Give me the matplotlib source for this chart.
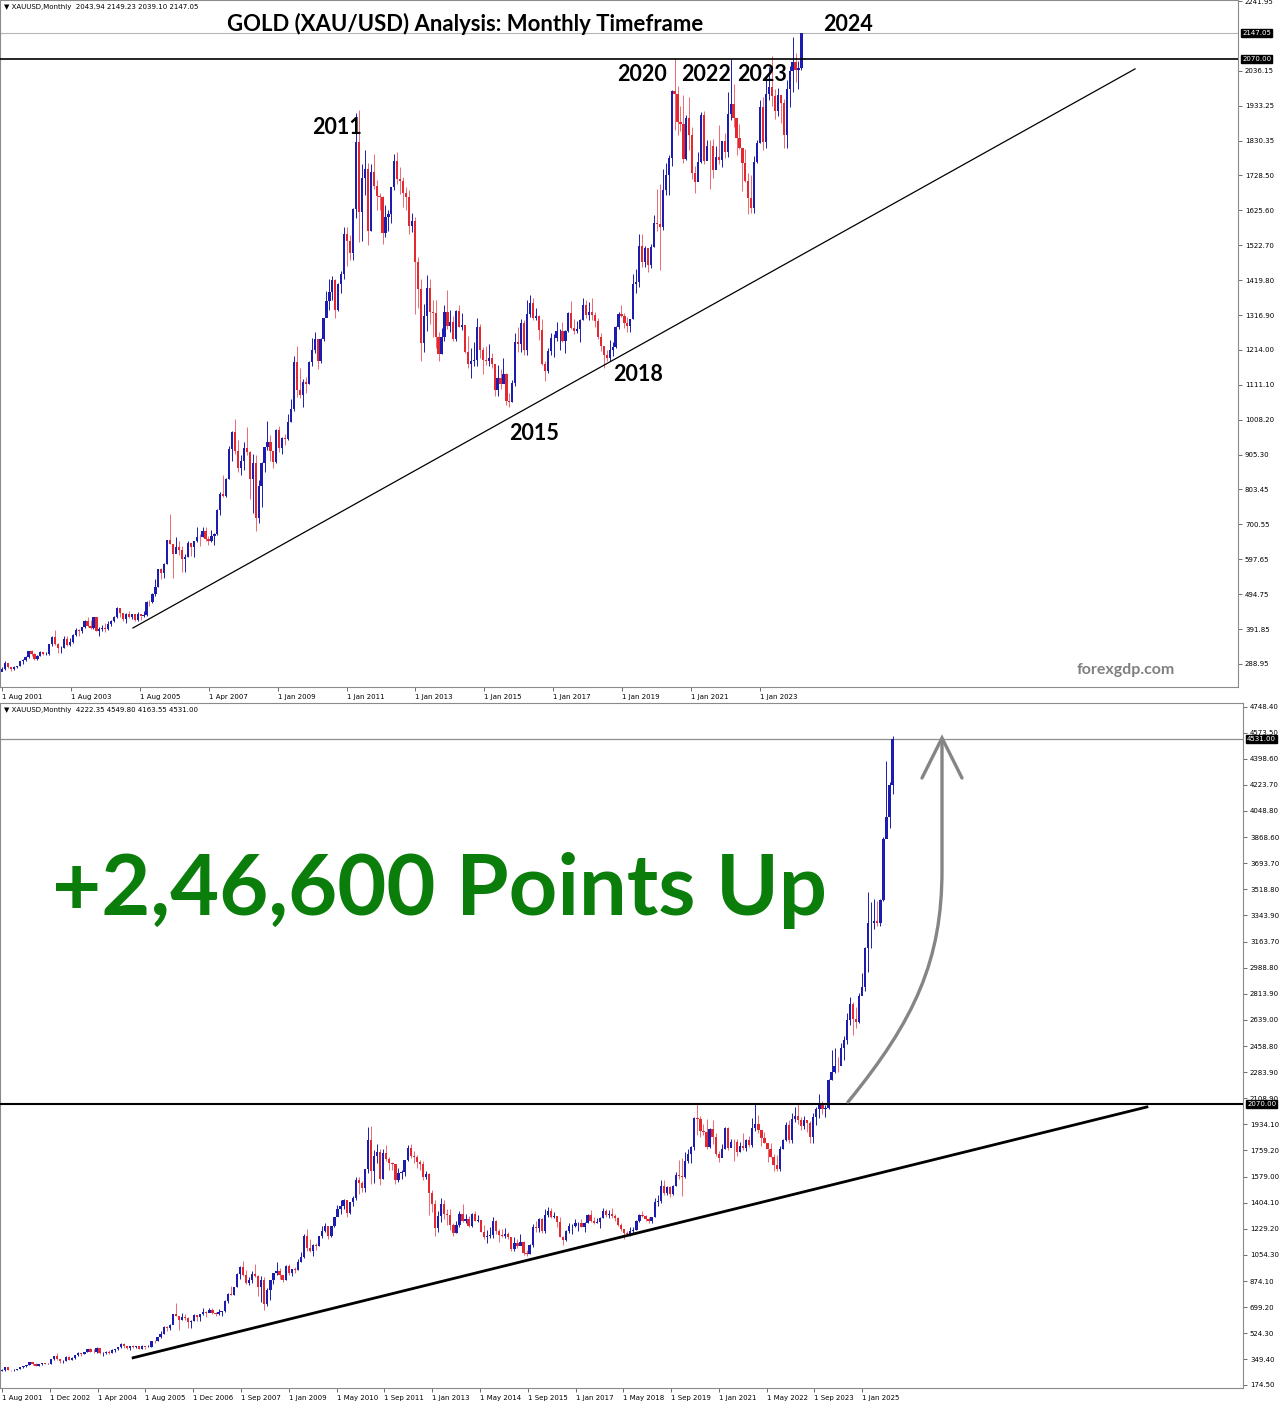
"""Gold monthly candles, two panels (to Mar 2024 and to Dec 2025)."""
import matplotlib.pyplot as plt
import numpy as np
from matplotlib.path import Path
from matplotlib.patches import PathPatch

plt.rcParams['font.family'] = ['DejaVu Sans']

W, H = 1279, 1401

# ---- monthly data, Aug 2001 .. Dec 2025 ----
first_open = 265.5
closes = [
    273.0, 293.1, 278.8, 275.5, 278.7,
    282.3, 296.9, 301.4, 308.2, 326.6, 318.5, 304.7, 312.8, 323.7, 316.9, 317.7, 347.6,
    367.5, 347.5, 334.9, 336.8, 361.4, 346.0, 354.8, 375.6, 388.0, 386.3, 398.4, 416.1,
    399.8, 395.9, 427.0, 386.8, 393.3, 395.8, 391.4, 407.3, 415.7, 428.0, 452.5, 438.0,
    422.2, 435.5, 428.7, 435.7, 417.3, 435.7, 429.0, 433.3, 472.3, 470.8, 495.7, 517.0,
    568.8, 556.0, 582.0, 654.5, 643.0, 613.5, 632.5, 623.5, 599.3, 603.8, 646.7, 632.0,
    650.5, 664.2, 663.0, 679.4, 657.5, 650.5, 665.5, 672.0, 742.8, 789.5, 783.5, 833.8,
    923.3, 971.5, 916.2, 865.0, 885.8, 925.3, 912.3, 833.0, 880.8, 718.5, 814.5, 882.0,
    927.4, 942.0, 916.3, 883.3, 978.8, 926.5, 954.0, 953.0, 1003.2, 1039.8, 1179.3, 1096.2,
    1080.9, 1118.6, 1113.3, 1179.3, 1213.6, 1245.6, 1181.2, 1247.5, 1307.8, 1358.3, 1383.6, 1421.0,
    1332.3, 1409.5, 1439.0, 1556.0, 1536.4, 1500.4, 1628.3, 1826.0, 1620.4, 1722.0, 1746.4, 1565.8,
    1737.8, 1696.3, 1668.5, 1663.8, 1560.0, 1604.4, 1614.3, 1692.9, 1772.1, 1719.0, 1712.5, 1675.4,
    1663.4, 1578.4, 1594.9, 1472.2, 1393.5, 1234.6, 1313.6, 1395.7, 1327.1, 1323.1, 1253.1, 1201.6,
    1251.1, 1326.3, 1283.8, 1295.6, 1246.1, 1327.3, 1282.5, 1286.6, 1208.2, 1171.6, 1182.6, 1183.9,
    1283.0, 1212.6, 1183.2, 1182.6, 1190.1, 1171.9, 1095.0, 1132.3, 1114.9, 1141.9, 1064.8, 1060.3,
    1117.6, 1237.7, 1232.3, 1292.2, 1214.6, 1321.3, 1351.3, 1308.4, 1315.2, 1272.6, 1173.9, 1151.7,
    1210.3, 1248.3, 1249.4, 1268.4, 1268.4, 1241.6, 1269.7, 1322.0, 1279.8, 1270.2, 1274.5, 1302.8,
    1345.1, 1318.1, 1325.4, 1315.6, 1298.9, 1252.6, 1224.2, 1200.5, 1191.5, 1215.0, 1222.1, 1281.7,
    1321.3, 1313.3, 1292.3, 1283.9, 1305.6, 1409.5, 1413.8, 1519.5, 1472.5, 1513.0, 1464.6, 1517.3,
    1589.2, 1585.7, 1577.2, 1686.3, 1730.3, 1780.9, 1975.9, 1967.8, 1886.9, 1879.1, 1776.5, 1898.4,
    1847.6, 1734.0, 1707.7, 1769.1, 1906.9, 1770.1, 1814.2, 1813.6, 1742.8, 1783.2, 1774.5, 1829.2,
    1796.6, 1908.8, 1937.4, 1896.7, 1837.9, 1807.5, 1765.9, 1711.0, 1660.6, 1633.6, 1768.5, 1824.0,
    1928.4, 1826.9, 1969.3, 1990.0, 1962.7, 1919.4, 1965.1, 1940.2, 1848.6, 1983.9, 2036.4, 2062.9,
    2039.5, 2044.2, 2229.9, 2286.3, 2327.0, 2326.3, 2447.6, 2503.4, 2634.6, 2743.9, 2643.2, 2624.5,
    2798.4, 2857.8, 3123.6, 3288.7, 3289.3, 3303.1, 3289.9, 3447.9, 3858.9, 4002.9, 4222.4, 4531.0,
]
highs = [
    279.0, 298.0, 293.0, 278.0, 282.0,
    284.0, 299.0, 303.0, 311.0, 328.0, 330.0, 322.0, 316.0, 326.0, 325.0, 323.0, 349.0,
    372.0, 389.0, 352.0, 341.0, 371.0, 372.0, 365.0, 378.0, 394.0, 392.0, 399.0, 417.0,
    427.0, 418.0, 428.0, 427.0, 397.0, 404.0, 410.0, 414.0, 419.0, 431.0, 456.0, 455.0,
    438.0, 438.0, 445.0, 437.0, 437.0, 441.0, 431.0, 446.0, 473.0, 478.0, 497.0, 538.0,
    570.0, 572.0, 586.0, 655.0, 730.0, 632.0, 663.0, 652.0, 636.0, 613.0, 650.0, 645.0,
    652.0, 691.0, 672.0, 693.0, 691.0, 666.0, 685.0, 675.0, 745.0, 795.0, 845.0, 838.0,
    932.0, 975.0, 1011.0, 948.0, 905.0, 942.0, 988.0, 915.0, 907.0, 904.0, 831.0, 884.0,
    929.0, 1006.0, 962.0, 913.0, 982.0, 990.0, 959.0, 967.0, 1024.0, 1070.0, 1196.0, 1227.0,
    1162.0, 1127.0, 1135.0, 1181.0, 1249.0, 1266.0, 1244.0, 1250.0, 1308.0, 1388.0, 1424.0, 1432.0,
    1424.0, 1411.0, 1447.0, 1575.0, 1577.0, 1553.0, 1632.0, 1913.0, 1921.0, 1761.0, 1803.0, 1764.0,
    1763.0, 1791.0, 1714.0, 1676.0, 1668.0, 1640.0, 1627.0, 1693.0, 1790.0, 1798.0, 1754.0, 1723.0,
    1694.0, 1684.0, 1617.0, 1605.0, 1488.0, 1424.0, 1348.0, 1434.0, 1424.0, 1361.0, 1362.0, 1267.0,
    1280.0, 1345.0, 1392.0, 1331.0, 1315.0, 1332.0, 1345.0, 1323.0, 1287.0, 1255.0, 1221.0, 1238.0,
    1307.0, 1289.0, 1224.0, 1225.0, 1232.0, 1205.0, 1174.0, 1170.0, 1157.0, 1191.0, 1146.0, 1088.0,
    1125.0, 1263.0, 1283.0, 1304.0, 1303.0, 1362.0, 1375.0, 1367.0, 1338.0, 1317.0, 1306.0, 1180.0,
    1220.0, 1264.0, 1261.0, 1295.0, 1276.0, 1296.0, 1274.0, 1326.0, 1357.0, 1306.0, 1299.0, 1306.0,
    1366.0, 1361.0, 1356.0, 1366.0, 1326.0, 1309.0, 1265.0, 1214.0, 1214.0, 1243.0, 1237.0, 1284.0,
    1326.0, 1346.0, 1324.0, 1310.0, 1306.0, 1439.0, 1453.0, 1555.0, 1557.0, 1519.0, 1515.0, 1525.0,
    1611.0, 1689.0, 1704.0, 1747.0, 1765.0, 1789.0, 1981.0, 2075.0, 1992.0, 1933.0, 1966.0, 1906.0,
    1959.0, 1872.0, 1755.0, 1798.0, 1916.0, 1917.0, 1832.0, 1834.0, 1836.0, 1814.0, 1877.0, 1831.0,
    1853.0, 1974.0, 2070.0, 1998.0, 1870.0, 1879.0, 1768.0, 1807.0, 1735.0, 1729.0, 1786.0, 1833.0,
    1949.0, 1959.0, 2009.0, 2049.0, 2079.0, 1984.0, 1987.0, 1949.0, 1953.0, 2009.0, 2052.0, 2135.0,
    2088.0, 2065.0, 2236.0, 2431.0, 2450.0, 2388.0, 2483.0, 2531.0, 2685.0, 2790.0, 2761.0, 2726.0,
    2817.0, 2956.0, 3128.0, 3500.0, 3435.0, 3452.0, 3439.0, 3453.0, 3872.0, 4381.0, 4245.0, 4549.8,
]
lows = [
    269.0, 271.0, 278.0, 268.5, 271.5,
    276.0, 282.0, 288.0, 298.0, 307.0, 311.0, 302.0, 300.0, 311.0, 314.0, 315.0, 316.0,
    342.0, 344.0, 320.0, 322.0, 336.0, 342.0, 342.0, 352.0, 370.0, 370.0, 380.0, 396.0,
    399.0, 391.0, 391.0, 386.0, 371.0, 386.0, 384.0, 390.0, 400.0, 412.0, 425.0, 426.0,
    416.0, 410.0, 423.0, 422.0, 414.0, 414.0, 418.0, 428.0, 431.0, 460.0, 468.0, 489.0,
    515.0, 538.0, 543.0, 583.0, 642.0, 543.0, 615.0, 611.0, 560.0, 560.0, 603.0, 608.0,
    604.0, 648.0, 636.0, 664.0, 651.0, 640.0, 649.0, 640.0, 670.0, 729.0, 780.0, 780.0,
    834.0, 888.0, 908.0, 855.0, 846.0, 860.0, 904.0, 775.0, 735.0, 681.0, 705.0, 751.0,
    855.0, 918.0, 888.0, 866.0, 880.0, 913.0, 908.0, 933.0, 950.0, 1001.0, 1033.0, 1075.0,
    1073.0, 1045.0, 1088.0, 1113.0, 1166.0, 1206.0, 1157.0, 1176.0, 1241.0, 1315.0, 1331.0, 1361.0,
    1308.0, 1330.0, 1381.0, 1424.0, 1462.0, 1478.0, 1478.0, 1603.0, 1532.0, 1534.0, 1670.0, 1523.0,
    1563.0, 1688.0, 1627.0, 1627.0, 1527.0, 1547.0, 1565.0, 1587.0, 1686.0, 1703.0, 1673.0, 1636.0,
    1626.0, 1555.0, 1562.0, 1321.0, 1338.0, 1180.0, 1207.0, 1271.0, 1291.0, 1251.0, 1221.0, 1182.0,
    1202.0, 1240.0, 1277.0, 1268.0, 1240.0, 1240.0, 1281.0, 1273.0, 1206.0, 1160.0, 1131.0, 1167.0,
    1167.0, 1190.0, 1142.0, 1170.0, 1168.0, 1162.0, 1077.0, 1077.0, 1098.0, 1137.0, 1053.0, 1046.0,
    1061.0, 1108.0, 1208.0, 1208.0, 1200.0, 1199.0, 1310.0, 1302.0, 1301.0, 1242.0, 1171.0, 1122.0,
    1146.0, 1200.0, 1194.0, 1241.0, 1214.0, 1237.0, 1205.0, 1267.0, 1276.0, 1261.0, 1264.0, 1236.0,
    1302.0, 1307.0, 1303.0, 1301.0, 1282.0, 1246.0, 1211.0, 1160.0, 1180.0, 1182.0, 1196.0, 1221.0,
    1276.0, 1310.0, 1280.0, 1266.0, 1266.0, 1306.0, 1382.0, 1400.0, 1459.0, 1459.0, 1445.0, 1456.0,
    1517.0, 1563.0, 1451.0, 1568.0, 1670.0, 1670.0, 1757.0, 1863.0, 1848.0, 1860.0, 1764.0, 1775.0,
    1802.0, 1717.0, 1677.0, 1720.0, 1766.0, 1761.0, 1790.0, 1688.0, 1721.0, 1746.0, 1761.0, 1753.0,
    1780.0, 1781.0, 1890.0, 1872.0, 1787.0, 1805.0, 1681.0, 1709.0, 1615.0, 1617.0, 1616.0, 1765.0,
    1823.0, 1804.0, 1810.0, 1950.0, 1932.0, 1893.0, 1903.0, 1884.0, 1810.0, 1810.0, 1931.0, 1973.0,
    2002.0, 1984.0, 2039.0, 2229.0, 2277.0, 2286.0, 2353.0, 2364.0, 2472.0, 2604.0, 2536.0, 2583.0,
    2614.0, 2833.0, 2833.0, 2957.0, 3121.0, 3248.0, 3268.0, 3268.0, 3436.0, 3886.0, 3930.0, 4163.55,
]
# upper panel stops at the unfinished Mar 2024 bar (O H L C)
top_bar_count = 272
top_last_bar = [2043.94, 2149.23, 2039.10, 2147.05]
bottom_header = [4222.35, 4549.80, 4163.55, 4531.00]

top_xlabels = ['1 Aug 2001', '1 Aug 2003', '1 Aug 2005', '1 Apr 2007', '1 Jan 2009', '1 Jan 2011',
               '1 Jan 2013', '1 Jan 2015', '1 Jan 2017', '1 Jan 2019', '1 Jan 2021', '1 Jan 2023']
bot_xlabels = ['1 Aug 2001', '1 Dec 2002', '1 Apr 2004', '1 Aug 2005', '1 Dec 2006', '1 Sep 2007',
               '1 Jan 2009', '1 May 2010', '1 Sep 2011', '1 Jan 2013', '1 May 2014', '1 Sep 2015',
               '1 Jan 2017', '1 May 2018', '1 Sep 2019', '1 Jan 2021', '1 May 2022', '1 Sep 2023',
               '1 Jan 2025']
top_yticks = [2241.95, 2036.15, 1933.25, 1830.35, 1728.50, 1625.60, 1522.70, 1419.80, 1316.90,
              1214.00, 1111.10, 1008.20, 905.30, 803.45, 700.55, 597.65, 494.75, 391.85, 288.95]
bot_yticks = [4748.40, 4573.50, 4398.60, 4223.70, 4048.80, 3868.60, 3693.70, 3518.80, 3343.90,
              3163.70, 2988.80, 2813.90, 2639.00, 2458.80, 2283.90, 2108.90, 1934.10, 1759.20,
              1579.00, 1404.10, 1229.20, 1054.30, 874.10, 699.20, 524.30, 349.40, 174.50]
resistance = 2070.0
top_trend_x, top_trend_y = [44.4, 384.1], [395.0, 2042.0]
bot_trend_x, bot_trend_y = [43.0, 375.4], [358.0, 2050.0]

BULL = '#1c1cb0'
BEAR = '#e3282f'

opens = [first_open] + closes[:-1]


def candles(ax, o, h, l, c):
    o, h, l, c = map(np.asarray, (o, h, l, c))
    x = np.arange(len(c))
    up = c >= o
    for mask, col, wcol in ((up, BULL, BULL), (~up, BEAR, '#ec6a70')):
        ax.vlines(x[mask], l[mask], h[mask], color=wcol, lw=0.7, zorder=2)
        ax.bar(x[mask], np.abs(c - o)[mask], bottom=np.minimum(o, c)[mask], width=0.75,
               color=col, linewidth=0, zorder=3)


def style(ax, yticks, xticks, xlabels):
    for s in ax.spines.values():
        s.set_color('#8a8a8a')
        s.set_linewidth(0.8)
    ax.yaxis.tick_right()
    ax.set_yticks(yticks)
    ax.set_yticklabels([f'{v:.2f}' for v in yticks])
    ax.set_xticks(xticks)
    ax.set_xticklabels(xlabels, ha='left')
    ax.tick_params(axis='both', labelsize=5.0, length=3, width=0.6, color='#555555', pad=2)


def price_box(ax, y, label):
    ax.annotate(label, xy=(1.0, y), xycoords=('axes fraction', 'data'), xytext=(3, 0),
                textcoords='offset points', ha='left', va='center', fontsize=5.0, color='white',
                bbox=dict(boxstyle='square,pad=0.15', fc='black', ec='black'), zorder=10,
                annotation_clip=False)


fig = plt.figure(figsize=(W / 100, H / 100), dpi=100)
fig.patch.set_facecolor('white')

# ---------- upper panel ----------
ax1 = fig.add_axes([0, 1 - 687 / H, 1238 / W, 687 / H])
o = opens[:top_bar_count - 1] + [top_last_bar[0]]
h = highs[:top_bar_count - 1] + [top_last_bar[1]]
l = lows[:top_bar_count - 1] + [top_last_bar[2]]
c = closes[:top_bar_count - 1] + [top_last_bar[3]]
candles(ax1, o, h, l, c)
ax1.set_xlim(-0.68, 419.0)
ax1.set_ylim(221, 2245)
style(ax1, top_yticks, [i * 23.36 for i in range(len(top_xlabels))], top_xlabels)
ax1.axhline(top_last_bar[3], color='#b5b5b5', lw=0.8, zorder=1)
ax1.axhline(resistance, color='black', lw=1.2, zorder=4)
ax1.plot(top_trend_x, top_trend_y, color='black', lw=0.9, zorder=4)
price_box(ax1, top_last_bar[3], f'{top_last_bar[3]:.2f}')
price_box(ax1, resistance, f'{resistance:.2f}')

# ---------- lower panel ----------
ax2 = fig.add_axes([0, 1 - 1388 / H, 1243 / W, 685 / H])
candles(ax2, opens, highs, lows, closes)
ax2.set_xlim(-0.66, 406.9)
ax2.set_ylim(154, 4775)
style(ax2, bot_yticks, [i * 15.67 for i in range(len(bot_xlabels))], bot_xlabels)
ax2.axhline(closes[-1], color='#8f8f8f', lw=0.9, zorder=1)
ax2.axhline(resistance, color='black', lw=1.5, zorder=4)
ax2.plot(bot_trend_x, bot_trend_y, color='black', lw=2.0, zorder=4)
price_box(ax2, closes[-1], f'{closes[-1]:.2f}')
price_box(ax2, resistance, f'{resistance:.2f}')

# ---------- overlay in pixel coordinates ----------
ov = fig.add_axes([0, 0, 1, 1], facecolor='none')
ov.set_xlim(0, W)
ov.set_ylim(H, 0)
ov.axis('off')

ov.text(4, 7, '\u25BC XAUUSD,Monthly  ' + ' '.join(f'{v:.2f}' for v in top_last_bar),
        fontsize=5.0, va='center', ha='left')
ov.text(4, 710, '\u25BC XAUUSD,Monthly  ' + ' '.join(f'{v:.2f}' for v in bottom_header),
        fontsize=5.0, va='center', ha='left')

bold = dict(family=['Lato', 'DejaVu Sans'], fontweight='bold', color='black', fontsize=15.5,
            ha='center', va='baseline')
ov.text(465, 31, 'GOLD (XAU/USD) Analysis: Monthly Timeframe', **{**bold, 'fontsize': 15.9})
for txt, x, y in [('2024', 848, 31), ('2011', 337, 134), ('2020', 642, 81), ('2022', 706, 81),
                  ('2023', 762, 81), ('2018', 638, 381), ('2015', 534, 440)]:
    ov.text(x, y, txt, **bold)
ov.text(1126, 674, 'forexgdp.com', family=['Lato', 'DejaVu Sans'], fontweight='bold',
        color='#808080', fontsize=11.5, ha='center', va='baseline')

ov.text(52, 915, '+2,46,600 Points Up', family=['Lato', 'DejaVu Sans'], fontweight='bold',
        color='#0b7d0b', fontsize=61, ha='left', va='baseline')

# curved growth arrow
verts = [(848, 1102), (915, 1020), (942, 960), (942, 870), (942, 740)]
codes = [Path.MOVETO, Path.CURVE4, Path.CURVE4, Path.CURVE4, Path.LINETO]
ov.add_patch(PathPatch(Path(verts, codes), fc='none', ec='#858585', lw=2.4, capstyle='round'))
ov.plot([922, 942, 962], [778, 738, 778], color='#858585', lw=2.4, solid_capstyle='round',
        solid_joinstyle='miter')

fig.savefig('out.png', dpi=100)
